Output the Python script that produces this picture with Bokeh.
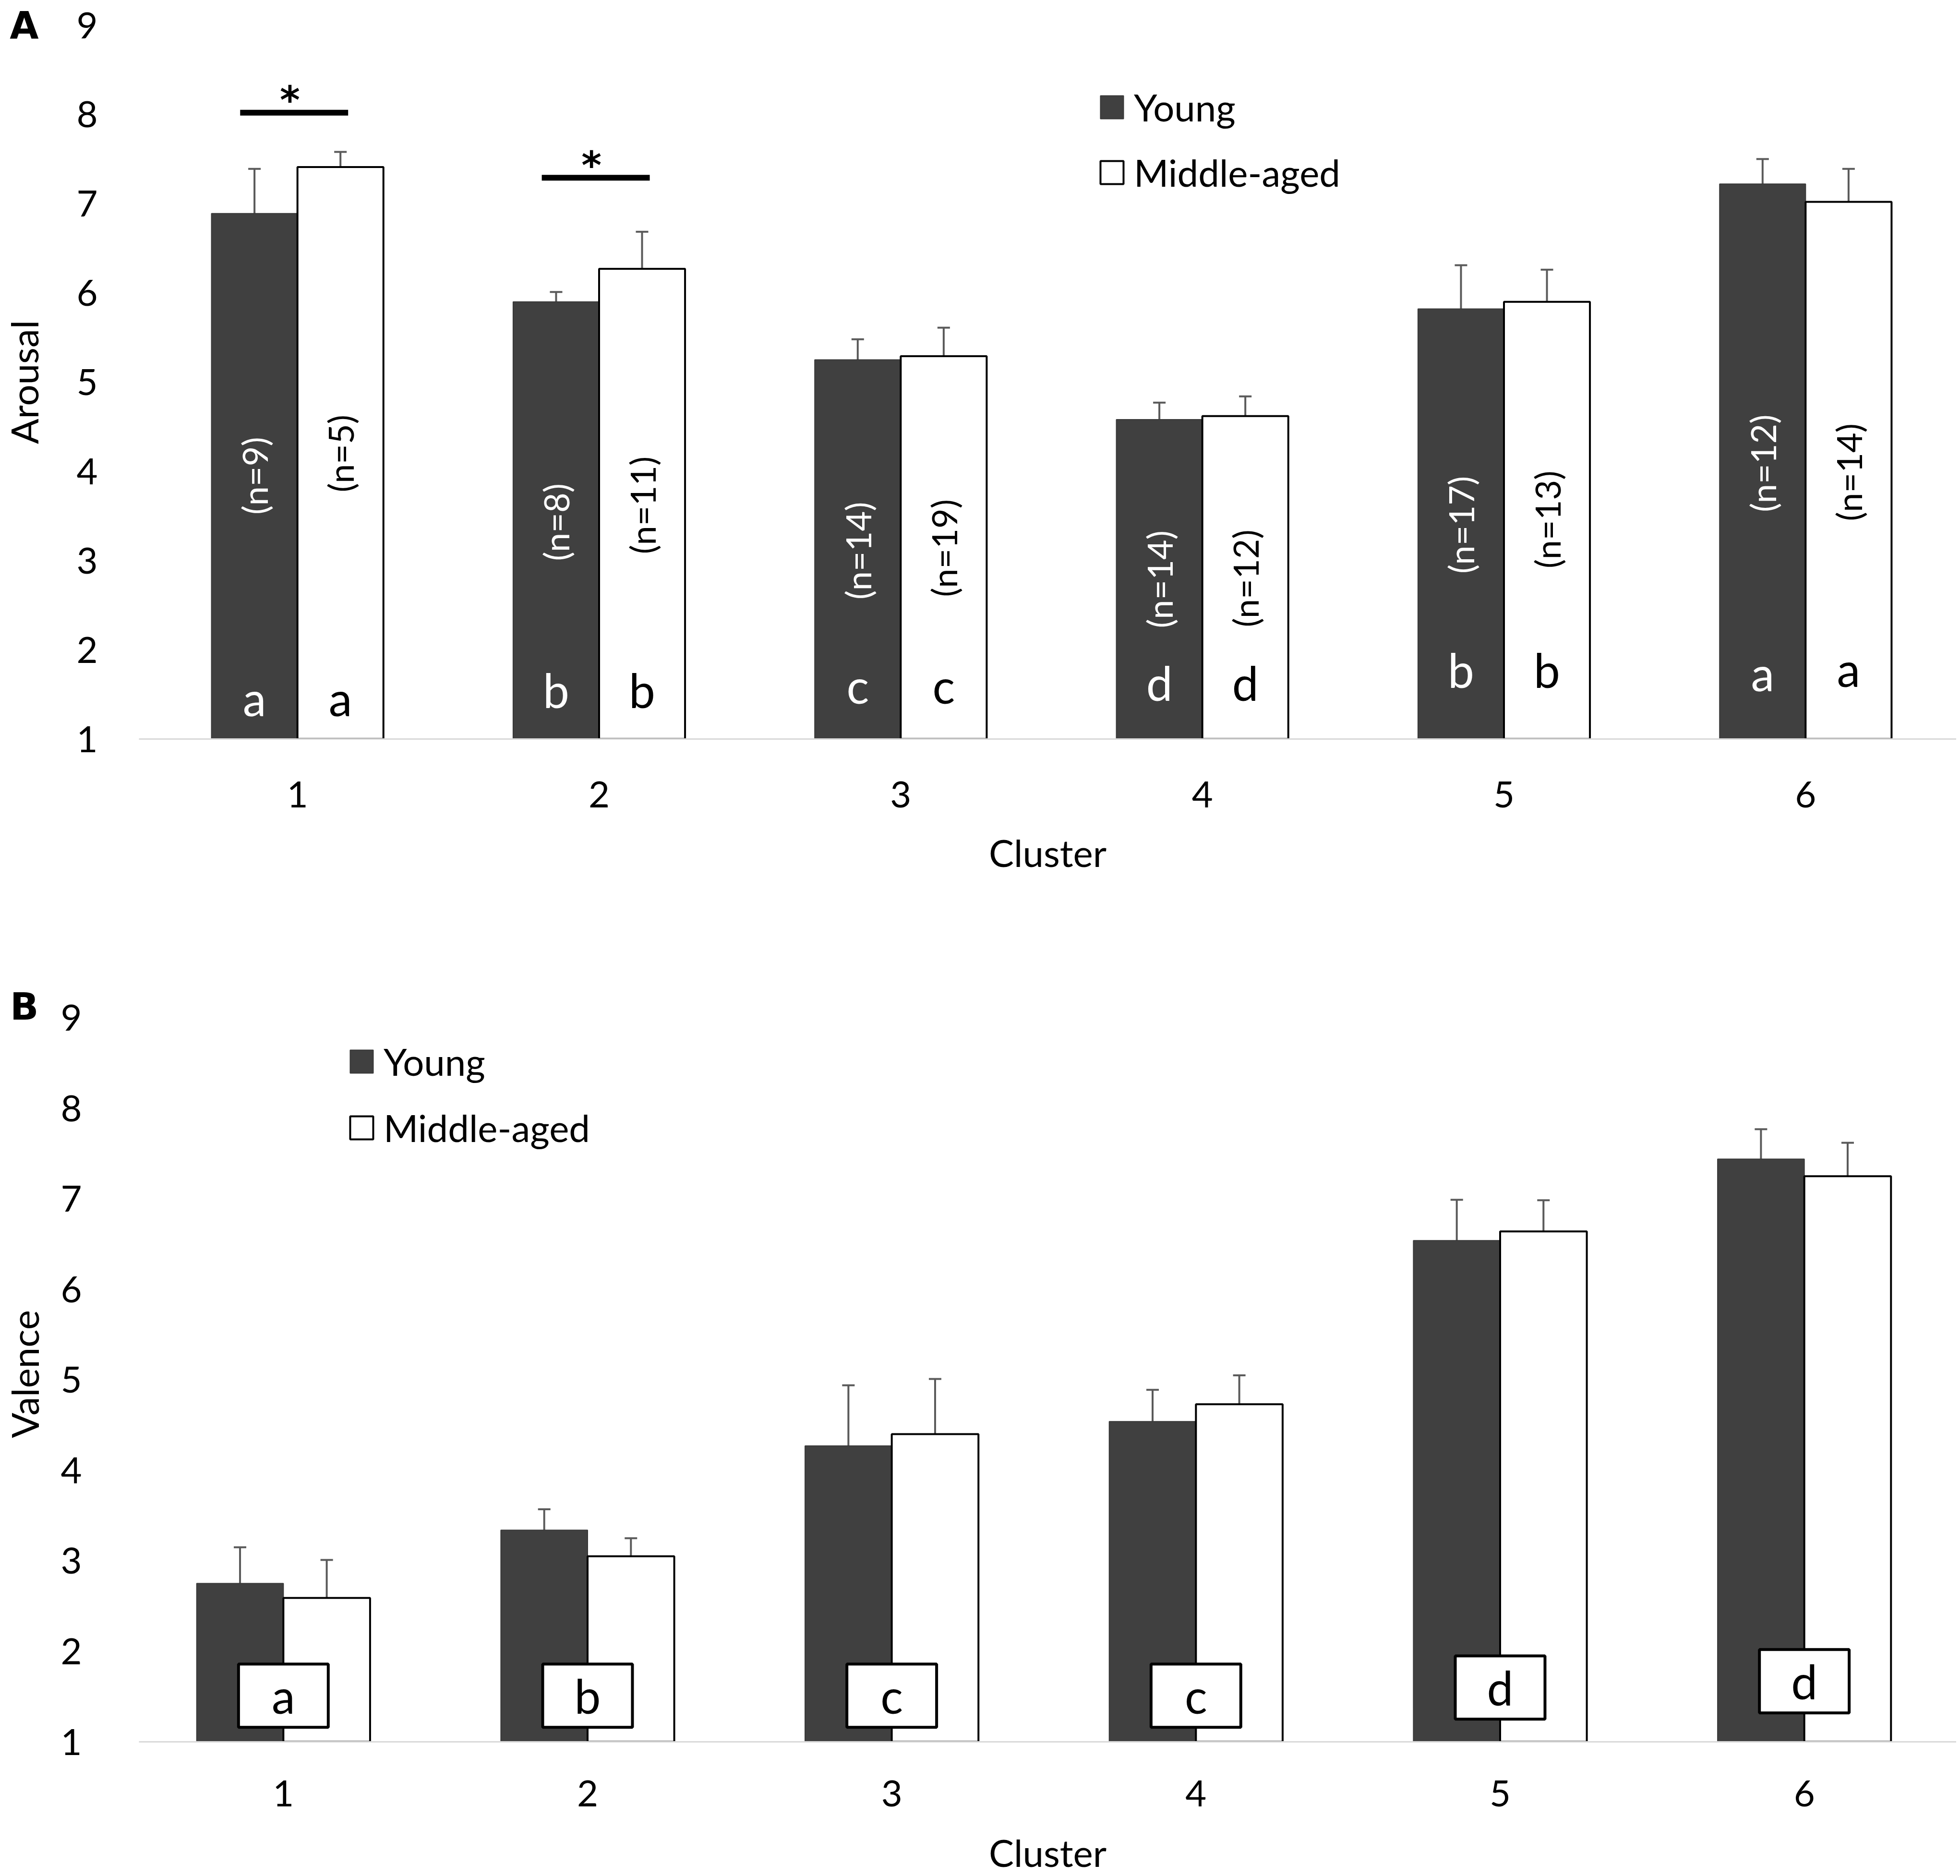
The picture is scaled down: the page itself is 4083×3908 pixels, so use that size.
import math
from bokeh.plotting import figure
from bokeh.models import (ColumnDataSource, Whisker, TeeHead, FixedTicker, Range1d,
                          Legend, LegendItem, LinearAxis)
from bokeh.layouts import column
from bokeh.embed import file_html
from bokeh.resources import INLINE
from bokeh.core.properties import value

# ---------------- data ----------------
clusters = [1, 2, 3, 4, 5, 6]
y_ticks = [1, 2, 3, 4, 5, 6, 7, 8, 9]

arousal_young = [6.89, 5.90, 5.25, 4.58, 5.82, 7.22]
arousal_young_err = [0.50, 0.11, 0.23, 0.19, 0.49, 0.28]
arousal_middle = [7.41, 6.27, 5.29, 4.62, 5.90, 7.02]
arousal_middle_err = [0.17, 0.415, 0.32, 0.22, 0.36, 0.37]
arousal_n_young = ["(n=9)", "(n=8)", "(n=14)", "(n=14)", "(n=17)", "(n=12)"]
arousal_n_middle = ["(n=5)", "(n=11)", "(n=19)", "(n=12)", "(n=13)", "(n=14)"]
arousal_n_young_y = [3.95, 3.43, 3.11, 2.79, 3.40, 4.09]
arousal_n_middle_y = [4.20, 3.62, 3.14, 2.80, 3.46, 3.99]
arousal_letters = ["a", "b", "c", "d", "b", "a"]
arousal_letter_young_y = [1.46, 1.55, 1.60, 1.63, 1.78, 1.74]
arousal_letter_middle_y = [1.46, 1.55, 1.60, 1.63, 1.78, 1.79]
arousal_sig_clusters = [1, 2]
arousal_sig_y = [8.02, 7.29]

valence_young = [2.75, 3.34, 4.27, 4.54, 6.54, 7.44]
valence_young_err = [0.40, 0.23, 0.67, 0.35, 0.45, 0.33]
valence_middle = [2.59, 3.05, 4.40, 4.73, 6.64, 7.25]
valence_middle_err = [0.42, 0.20, 0.61, 0.32, 0.345, 0.37]
valence_letters = ["a", "b", "c", "c", "d", "d"]
valence_letter_y = [1.51, 1.51, 1.51, 1.51, 1.60, 1.67]

# ---------------- style ----------------
FONT = "Lato"
DARK = "#404040"
ERR = "#5a5a5a"
TICK_FS = "76px"
LABEL_FS = "78px"
LETTER_FS = "98px"
N_FS = "72px"
BAR_W = 0.285
HALF = BAR_W / 2
FIG_W = 4075
FRAME_LEFT = 289   # shared left border (column layout aligns frames)


def make_panel(panel_letter, letter_y, y_end, ylabel, young, young_err, middle, middle_err,
               height, border_top, frame_h, data_left, tick_standoff, letter_standoff,
               legend_loc, legend_spacing):
    px_per_unit = (FIG_W - data_left) / 6.0
    x_start = 0.5 - (data_left - FRAME_LEFT) / px_per_unit
    p = figure(width=FIG_W, height=height, output_backend="svg", toolbar_location=None,
               x_range=Range1d(x_start, 6.5), y_range=Range1d(1, y_end),
               min_border_left=FRAME_LEFT, min_border_right=0,
               min_border_top=border_top,
               min_border_bottom=height - border_top - frame_h)
    p.outline_line_color = None
    p.xgrid.grid_line_color = None
    p.ygrid.grid_line_color = None
    p.background_fill_color = "white"
    p.border_fill_color = "white"

    xy = [c - HALF for c in clusters]
    xm = [c + HALF for c in clusters]
    src_y = ColumnDataSource(dict(x=xy, top=young,
                                  upper=[v + e for v, e in zip(young, young_err)],
                                  lower=[v - e for v, e in zip(young, young_err)]))
    src_m = ColumnDataSource(dict(x=xm, top=middle,
                                  upper=[v + e for v, e in zip(middle, middle_err)],
                                  lower=[v - e for v, e in zip(middle, middle_err)]))
    r_y = p.vbar(x="x", top="top", bottom=1, width=BAR_W, source=src_y,
                 fill_color=DARK, line_color="#383838", line_width=2)
    r_m = p.vbar(x="x", top="top", bottom=1, width=BAR_W, source=src_m,
                 fill_color="white", line_color="black", line_width=4)
    for s in (src_y, src_m):
        w = Whisker(source=s, base="x", upper="upper", lower="lower",
                    line_color=ERR, line_width=4,
                    upper_head=TeeHead(size=26, line_color=ERR, line_width=4),
                    lower_head=TeeHead(size=26, line_color=ERR, line_width=4))
        p.add_layout(w)

    # axes
    p.xaxis.ticker = FixedTicker(ticks=clusters)
    p.yaxis.ticker = FixedTicker(ticks=y_ticks)
    for ax in (p.xaxis[0], p.yaxis[0]):
        ax.major_tick_line_color = None
        ax.minor_tick_line_color = None
        ax.major_tick_out = 0
        ax.major_tick_in = 0
        ax.major_label_text_font = FONT
        ax.major_label_text_font_size = TICK_FS
        ax.major_label_text_color = "black"
        ax.axis_label_text_font = FONT
        ax.axis_label_text_font_size = LABEL_FS
        ax.axis_label_text_font_style = "normal"
        ax.axis_label_text_color = "black"
    p.yaxis.axis_line_color = None
    p.yaxis.major_label_standoff = tick_standoff
    p.xaxis.axis_line_color = "#d9d9d9"
    p.xaxis.axis_line_width = 3
    p.xaxis.axis_label = "Cluster"

    # outer left axis: carries the panel letter and the y title
    outer = LinearAxis(ticker=FixedTicker(ticks=[letter_y]),
                       major_label_overrides={letter_y: panel_letter},
                       axis_line_color=None, major_tick_line_color=None,
                       minor_tick_line_color=None, major_tick_out=0, major_tick_in=0,
                       major_label_standoff=letter_standoff,
                       major_label_text_font="DejaVu Sans",
                       major_label_text_font_style="bold",
                       major_label_text_font_size="78px",
                       major_label_text_color="black",
                       axis_label=ylabel, axis_label_text_font=FONT,
                       axis_label_text_font_size=LABEL_FS,
                       axis_label_text_font_style="normal",
                       axis_label_text_color="black",
                       axis_label_standoff=-80)
    p.add_layout(outer, "left")

    # legend
    legend = Legend(items=[LegendItem(label="Young", renderers=[r_y]),
                           LegendItem(label="Middle-aged", renderers=[r_m])],
                    location=legend_loc, glyph_width=60, glyph_height=60,
                    label_text_font=FONT, label_text_font_size=LABEL_FS,
                    label_text_color="black",
                    label_standoff=16, spacing=legend_spacing, padding=0, margin=0,
                    border_line_color=None, background_fill_alpha=0)
    p.add_layout(legend)
    return p, xy, xm


# ---------------- panel A ----------------
pA, xyA, xmA = make_panel("A", 9, 9, "Arousal", arousal_young, arousal_young_err,
                          arousal_middle, arousal_middle_err,
                          height=1850, border_top=52, frame_h=1487, data_left=305,
                          tick_standoff=86, letter_standoff=76,
                          legend_loc=(1997, 1133), legend_spacing=42)
pA.xaxis.major_label_standoff = 88
pA.xaxis.axis_label_standoff = 44

pA.text(x=xyA, y=arousal_n_young_y, text=arousal_n_young, angle=math.pi / 2,
        text_font=value(FONT), text_font_size=N_FS, text_color="white",
        text_align="center", text_baseline="middle")
pA.text(x=xmA, y=arousal_n_middle_y, text=arousal_n_middle, angle=math.pi / 2,
        text_font=value(FONT), text_font_size=N_FS, text_color="black",
        text_align="center", text_baseline="middle")
pA.text(x=xyA, y=arousal_letter_young_y, text=arousal_letters,
        text_font=value(FONT), text_font_size=LETTER_FS, text_color="white",
        text_align="center", text_baseline="middle")
pA.text(x=xmA, y=arousal_letter_middle_y, text=arousal_letters,
        text_font=value(FONT), text_font_size=LETTER_FS, text_color="black",
        text_align="center", text_baseline="middle")
pA.segment(x0=[c - 0.19 for c in arousal_sig_clusters], x1=[c + 0.168 for c in arousal_sig_clusters],
           y0=arousal_sig_y, y1=arousal_sig_y, line_color="black", line_width=12)
pA.text(x=[c - 0.025 for c in arousal_sig_clusters], y=arousal_sig_y,
        text=["*"] * len(arousal_sig_clusters),
        text_font=value("DejaVu Sans"), text_font_style="bold", text_font_size="80px",
        text_color="black", text_align="center", text_baseline="alphabetic", y_offset=-26)

# ---------------- panel B ----------------
B_LETTER_Y = 9.127   # panel letter sits slightly above the 9 tick
pB, xyB, xmB = make_panel("B", B_LETTER_Y, B_LETTER_Y, "Valence", valence_young, valence_young_err,
                          valence_middle, valence_middle_err,
                          height=2058, border_top=246, frame_h=1534, data_left=273,
                          tick_standoff=119, letter_standoff=43,
                          legend_loc=(434, 1232), legend_spacing=44)
pB.xaxis.major_label_standoff = 80
pB.xaxis.axis_label_standoff = 46

pB.rect(x=clusters, y=valence_letter_y, width=0.295, height=0.70,
        fill_color="white", line_color="black", line_width=6)
pB.text(x=clusters, y=valence_letter_y, text=valence_letters,
        text_font=value(FONT), text_font_size=LETTER_FS, text_color="black",
        text_align="center", text_baseline="middle")

layout = column(pA, pB, spacing=0)
open("out.html", "w").write(file_html(layout, INLINE))
